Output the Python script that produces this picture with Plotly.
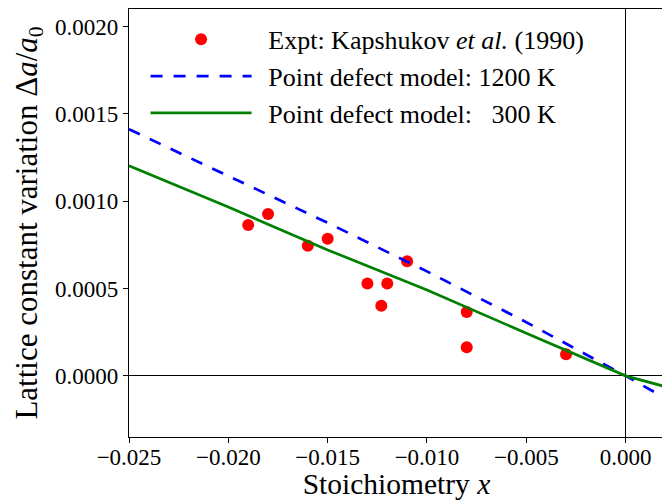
import plotly.graph_objects as go

# Experimental data (Kapshukov et al., 1990)
expt_x = [-0.019, -0.018, -0.016, -0.015, -0.013, -0.0123, -0.012, -0.011, -0.008, -0.008, -0.003]
expt_y = [0.000864, 0.000927, 0.000745, 0.000785, 0.000529, 0.000401, 0.000529, 0.000656, 0.000365, 0.000164, 0.000124]

# Point defect model curves
model_x = [-0.025, -0.020, -0.015, -0.010, -0.005, 0.0, 0.002]
model_1200 = [0.001412, 0.001143, 0.000876, 0.000598, 0.000307, 0.0, -0.000128]
model_300 = [0.001203, 0.000966, 0.000721, 0.000491, 0.000244, 0.0, -0.000062]

x_ticks = [-0.025, -0.020, -0.015, -0.010, -0.005, 0.000]
y_ticks = [0.0000, 0.0005, 0.0010, 0.0015, 0.0020]

FONT = "Liberation Serif"
PAD = "\u00a0\u2009"

fig = go.Figure()
fig.add_trace(go.Scatter(
    x=expt_x, y=expt_y, mode="markers",
    marker=dict(color="#ff0000", size=12),
    name=PAD + "Expt: Kapshukov <i>et al.</i> (1990)"))
fig.add_trace(go.Scatter(
    x=model_x, y=model_1200, mode="lines",
    line=dict(color="#0000ff", width=2.7, dash="12px,11px"),
    name=PAD + "Point defect model: 1200 K"))
fig.add_trace(go.Scatter(
    x=model_x, y=model_300, mode="lines",
    line=dict(color="#008000", width=2.7),
    name=PAD + "Point defect model: \u00a0\u00a0300 K"))

axis_common = dict(
    showline=True, linecolor="black", linewidth=1.3, mirror=True,
    ticks="outside", ticklen=5, tickwidth=1.3, tickcolor="black",
    showgrid=False, zeroline=True, zerolinecolor="black", zerolinewidth=1,
    tickfont=dict(family=FONT, size=23, color="black"),
    automargin=False,
)

fig.update_xaxes(range=[-0.025, 0.00193], tickvals=x_ticks, tickformat=".3f",
                 ticklabelstandoff=-6,
                 title=dict(text="Stoichiometry <i>x</i>", font=dict(family=FONT, size=29.5, color="black"), standoff=26),
                 **axis_common)
fig.update_yaxes(range=[-0.00035, 0.0021], tickvals=y_ticks, tickformat=".4f",
                 title=dict(text="Lattice constant variation \u0394<i>a</i>/<i>a</i><sub>0</sub>",
                            font=dict(family=FONT, size=31, color="black"), standoff=8),
                 **axis_common)

# the page body adds an 8px offset, so the figure is sized to fit the window
fig.update_layout(
    width=662, height=492,
    margin=dict(l=121, r=6, t=1, b=63, autoexpand=False),
    plot_bgcolor="white", paper_bgcolor="white",
    font=dict(family=FONT, size=23, color="black"),
    showlegend=True,
    legend=dict(x=0.031, y=0.984, xanchor="left", yanchor="top",
                bgcolor="rgba(0,0,0,0)", borderwidth=0,
                font=dict(family=FONT, size=26, color="black"),
                itemwidth=101, tracegroupgap=0),
)

fig.write_html("out.html")
